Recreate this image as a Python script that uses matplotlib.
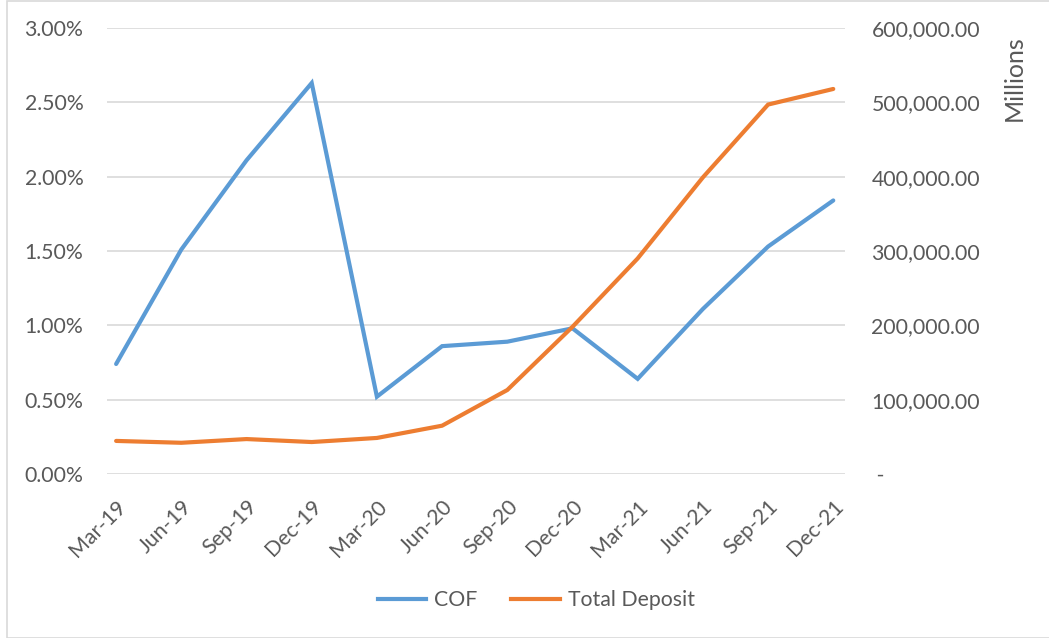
import numpy as np
import matplotlib.pyplot as plt
from matplotlib.ticker import FuncFormatter, MultipleLocator
from matplotlib.lines import Line2D
from matplotlib.patches import Rectangle

quarters = ["Mar-19", "Jun-19", "Sep-19", "Dec-19", "Mar-20", "Jun-20",
            "Sep-20", "Dec-20", "Mar-21", "Jun-21", "Sep-21", "Dec-21"]
# cost of funds, percent
cof = [0.74, 1.51, 2.11, 2.63, 0.52, 0.86, 0.89, 0.98, 0.64, 1.11, 1.53, 1.84]
# total deposit, millions
total_deposit = [44500, 42000, 47000, 43000, 48500, 65000,
                 113000, 198000, 290000, 399000, 497000, 518000]

blue = "#5B9BD5"
orange = "#ED7D31"
grey_text = "#595959"

plt.rcParams['font.family'] = ['Lato', 'DejaVu Sans']
plt.rcParams['font.size'] = 15.3

fig = plt.figure(figsize=(10.49, 6.38), dpi=100)
ax = fig.add_axes([107 / 1049, 1 - 474 / 638, 738 / 1049, 446 / 638])
ax2 = ax.twinx()

x = np.arange(len(quarters))
ax.plot(x, cof, color=blue, lw=3.0, solid_capstyle='round', solid_joinstyle='miter', zorder=3)
ax2.plot(x, total_deposit, color=orange, lw=3.0, solid_capstyle='round', solid_joinstyle='miter', zorder=3)

ax.set_xlim(-0.14, 11.18)
ax.set_ylim(0, 3.0)
ax2.set_ylim(0, 600000)
ax.yaxis.set_major_locator(MultipleLocator(0.5))
ax2.yaxis.set_major_locator(MultipleLocator(100000))
ax.yaxis.set_major_formatter(FuncFormatter(lambda v, p: f"{v:.2f}%"))
ax2.yaxis.set_major_formatter(FuncFormatter(lambda v, p: " -" if v == 0 else f"{v:,.2f}"))

ax.grid(axis='y', color="#D9D9D9", lw=1.2)
ax.set_axisbelow(True)
for a in (ax, ax2):
    for s in a.spines.values():
        s.set_visible(False)
    a.tick_params(length=0, colors=grey_text)
ax.tick_params(axis='y', pad=17)
ax2.tick_params(axis='y', pad=19)

ax.set_xticks(x)
ax.set_xticklabels(quarters, rotation=45, ha='right', va='top', rotation_mode='anchor')
ax.tick_params(axis='x', pad=16)

fig.text(1014 / 1049, 1 - 78 / 638, "Millions", rotation=90, ha='center', va='center',
         color=grey_text, fontsize=18)

handles = [Line2D([], [], color=blue, lw=3.0), Line2D([], [], color=orange, lw=3.0)]
fig.legend(handles, ["COF", "Total Deposit"], loc='center', bbox_to_anchor=(536 / 1049, 1 - 600 / 638),
           ncol=2, frameon=False, handlelength=2.3, columnspacing=1.6, handletextpad=0.35,
           labelcolor=grey_text, fontsize=15.3)

fig.patches.append(Rectangle((7 / 1049, 0), 1.2, 1 - 1 / 638, transform=fig.transFigure,
                             fill=False, edgecolor="#D9D9D9", lw=1.2))

fig.savefig("out.png", dpi=100, facecolor='white')
